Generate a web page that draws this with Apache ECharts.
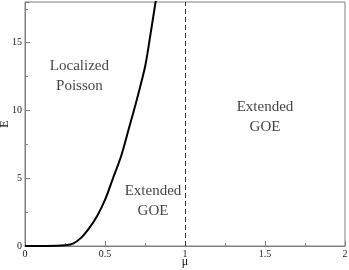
<!DOCTYPE html>
<html><head><meta charset="utf-8">
<script src="https://cdn.jsdelivr.net/npm/echarts@6/dist/echarts.min.js"></script>
<style>html,body{margin:0;padding:0;background:#fff}#c{width:349px;height:270px}</style>
</head><body><div id="c"></div>
<script>
const muValues = [0, 0.1, 0.2, 0.25, 0.3, 0.35, 0.4, 0.45, 0.5, 0.55, 0.6, 0.65, 0.7, 0.75, 0.78, 0.82];
const eValues  = [0, 0, 0.01, 0.05, 0.18, 0.6, 1.3, 2.2, 3.4, 5.0, 6.6, 8.7, 10.85, 13.2, 15.3, 18.3];
const boundaryMu = 1;
const xTicks = [0, 0.5, 1, 1.5, 2];
const yTicks = [0, 5, 10, 15];
const regionLabels = [
  {text: 'Localized\nPoisson', mu: 0.34, e: 12.5},
  {text: 'Extended\nGOE', mu: 0.8, e: 3.3},
  {text: 'Extended\nGOE', mu: 1.5, e: 9.5}
];

const chart = echarts.init(document.getElementById('c'));
const font = '"Liberation Serif", "DejaVu Serif", serif';
const axisCommon = {
  axisLine: {show: true, onZero: false, lineStyle: {color: '#808080', width: 1}},
  axisTick: {show: true, inside: true, length: 5, lineStyle: {color: '#808080'}},
  minorTick: {show: true, splitNumber: 2, length: 3, lineStyle: {color: '#808080'}},
  splitLine: {show: false},
  axisLabel: {fontFamily: font, fontSize: 10, color: '#222'},
  nameTextStyle: {fontFamily: font, fontSize: 12, color: '#111'},
  nameMoveOverlap: false
};
chart.setOption({
  animation: false,
  grid: {left: 25, right: 4, top: 2, bottom: 24, containLabel: false, outerBoundsMode: 'none', show: true, borderColor: '#808080', borderWidth: 1, backgroundColor: 'transparent'},
  xAxis: Object.assign({}, axisCommon, {
    type: 'value', min: xTicks[0], max: xTicks[xTicks.length-1], interval: 0.5,
    name: 'μ', nameLocation: 'middle', nameGap: 10,
    axisLabel: Object.assign({}, axisCommon.axisLabel, {margin: 3, formatter: v => String(v)})
  }),
  yAxis: Object.assign({}, axisCommon, {
    type: 'value', min: 0, max: 18, interval: 5,
    name: 'E', nameLocation: 'middle', nameGap: 14,
    axisLabel: Object.assign({}, axisCommon.axisLabel, {margin: 3, showMaxLabel: false, formatter: v => yTicks.includes(v) ? String(v) : ''})
  }),
  series: [{
    type: 'line', smooth: 0.3, showSymbol: false,
    data: muValues.map((m, i) => [m, eValues[i]]),
    lineStyle: {color: '#000', width: 2},
    markLine: {
      silent: true, symbol: 'none', label: {show: false},
      lineStyle: {color: '#333', type: [5, 3], width: 1},
      data: [{xAxis: boundaryMu}]
    }
  }, {
    type: 'scatter', symbolSize: 0, silent: true,
    data: regionLabels.map(r => ({value: [r.mu, r.e], name: r.text})),
    label: {show: true, position: 'inside', formatter: p => p.name, fontFamily: font, fontSize: 15, color: '#111', lineHeight: 20, align: 'center'}
  }]
});
</script></body></html>
